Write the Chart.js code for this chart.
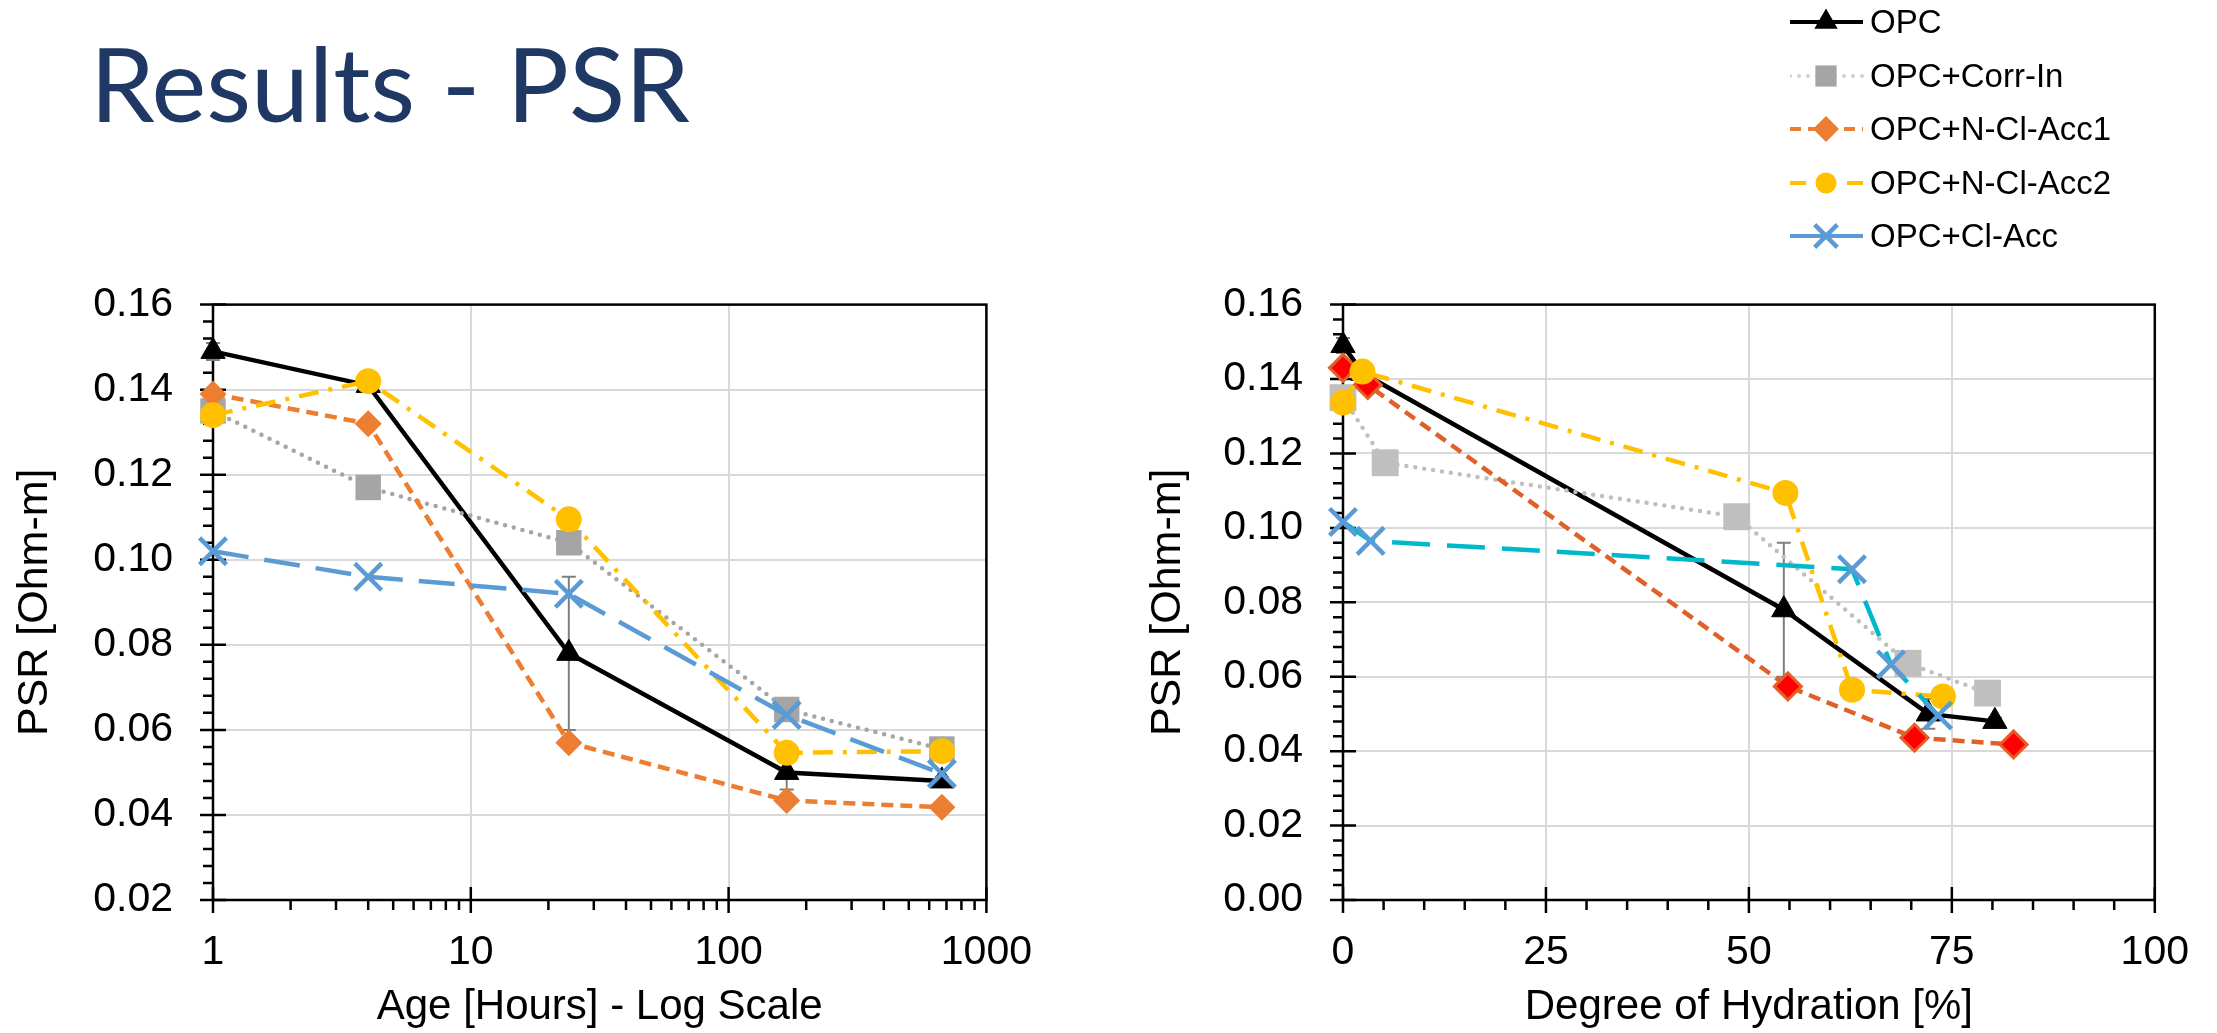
<!DOCTYPE html>
<html>
<head>
<meta charset="utf-8">
<script src="https://cdn.jsdelivr.net/npm/chart.js@4.4.1/dist/chart.umd.min.js"></script>
<style>
  html, body { margin: 0; padding: 0; background: #fff; }
  body { width: 2217px; height: 1033px; position: relative; overflow: hidden;
         font-family: "Liberation Sans", Arial, sans-serif; }
  #title { position: absolute; left: 90px; top: 21px; font-family: Lato, "Noto Sans", sans-serif;
           font-size: 103px; line-height: 1.2; color: #1F3864; white-space: nowrap; transform-origin: 0 0; }
  canvas { position: absolute; top: 240px; }
  #legend { position: absolute; left: 1790px; top: 0; width: 427px; height: 260px; }
  .leg-row { position: absolute; left: 0; height: 40px; }
  .leg-row canvas { position: absolute; left: 0; top: 0; }
  .leg-row span { position: absolute; left: 80px; top: 0; line-height: 40px; font-size: 33px;
                  color: #000; white-space: nowrap; }
</style>
</head>
<body>
<div id="title"><span id="titleText">Results - PSR</span></div>
<canvas id="ageChart" width="1060" height="793" style="left:0"></canvas>
<canvas id="dohChart" width="1117" height="793" style="left:1100px"></canvas>
<div id="legend"></div>

<script>
// ---- data ----
const seriesNames = ['OPC', 'OPC+Corr-In', 'OPC+N-Cl-Acc1', 'OPC+N-Cl-Acc2', 'OPC+Cl-Acc'];

// left: PSR vs age (hours, log axis)
const ageHours     = [1, 4, 24, 168, 672];
const psrAgeOPC    = [0.149, 0.141, 0.078, 0.050, 0.048];
const psrAgeCorrIn = [0.135, 0.117, 0.104, 0.0648, 0.0555];
const psrAgeAcc1   = [0.139, 0.132, 0.057, 0.0434, 0.0418];
const psrAgeAcc2   = [0.134, 0.142, 0.1095, 0.0546, 0.055];
const psrAgeClAcc  = [0.102, 0.096, 0.092, 0.0635, 0.0497];
const opcErr       = [0.002, 0.001, 0.018, 0.004, 0.001];

// right: PSR vs degree of hydration (%)
const dohOPC       = [0, 2.5, 54.3, 72.1, 80.3];
const psrDohOPC    = [0.149, 0.1415, 0.078, 0.050, 0.048];
const dohCorrIn    = [0, 5.2, 48.5, 69.6, 79.4];
const psrDohCorrIn = [0.135, 0.1175, 0.103, 0.0636, 0.0556];
const dohAcc1      = [0, 3.05, 54.8, 70.4, 82.6];
const psrDohAcc1   = [0.143, 0.1384, 0.0574, 0.0436, 0.0418];
const dohAcc2      = [0, 2.4, 54.5, 62.7, 73.9];
const psrDohAcc2   = [0.1337, 0.142, 0.1094, 0.0565, 0.0547];
const dohClAcc     = [0, 3.4, 62.7, 67.5, 73.3];
const psrDohClAcc  = [0.1016, 0.0965, 0.0889, 0.0633, 0.0496];

// tick labels
const ageTickLabels = [1, 10, 100, 1000];
const dohTickLabels = [0, 25, 50, 75, 100];
const psrTickLabelsAge = [0.02, 0.04, 0.06, 0.08, 0.10, 0.12, 0.14, 0.16];
const psrTickLabelsDoh = [0.00, 0.02, 0.04, 0.06, 0.08, 0.10, 0.12, 0.14, 0.16];

Chart.defaults.font.family = "'Liberation Sans', Arial, sans-serif";
Chart.defaults.color = '#000';

const pts = (xs, ys) => xs.map((x, i) => ({ x: x, y: ys[i] }));
const isMajorY = v => Math.abs(v * 50 - Math.round(v * 50)) < 1e-6;
const stepsBetween = (a, b, s) => {
  const out = [];
  for (let i = 0; i <= Math.round((b - a) / s); i++) out.push(+(a + i * s).toFixed(4));
  return out;
};
const logMinorTicks = [1, 10, 100].flatMap(d => [1, 2, 3, 4, 5, 6, 7, 8, 9].map(k => k * d)).concat([1000]);

// line / marker looks, left chart then right chart
const stylesAge = [
  { line: '#000000', fill: '#000000', pb: '#000000', pbw: 1, dash: [], cap: 'butt', shape: 'triangle', r: 14 },
  { line: '#A5A5A5', fill: '#A5A5A5', pb: '#A5A5A5', pbw: 0, dash: [0, 9], cap: 'round', shape: 'rect', r: 18 },
  { line: '#ED7D31', fill: '#ED7D31', pb: '#ED7D31', pbw: 0, dash: [12, 7], cap: 'butt', shape: 'rectRot', r: 13.5 },
  { line: '#FFC000', fill: '#FFC000', pb: '#FFC000', pbw: 0, dash: [20, 10, 4, 10], cap: 'butt', shape: 'circle', r: 13 },
  { line: '#5B9BD5', fill: '#5B9BD5', pb: '#5B9BD5', pbw: 4.5, dash: [36, 16], cap: 'butt', shape: 'crossRot', r: 19 }
];
const stylesDoh = [
  stylesAge[0],
  { line: '#BFBFBF', fill: '#BFBFBF', pb: '#BFBFBF', pbw: 0, dash: [0, 9], cap: 'round', shape: 'rect', r: 19 },
  { line: '#E0602A', fill: '#FF0000', pb: '#E0602A', pbw: 3, dash: [12, 7], cap: 'butt', shape: 'rectRot', r: 13.5 },
  stylesAge[3],
  { line: '#00B8CC', fill: '#5B9BD5', pb: '#5B9BD5', pbw: 4.5, dash: [38, 17], cap: 'butt', shape: 'crossRot', r: 19 }
];

function makeDatasets(seriesPts, styles) {
  return seriesPts.map((data, i) => {
    const st = styles[i];
    return {
      label: seriesNames[i], data: data,
      borderColor: st.line, borderWidth: 4.5, borderDash: st.dash, borderCapStyle: st.cap,
      pointStyle: st.shape, pointRadius: st.r, pointHoverRadius: st.r,
      pointBackgroundColor: st.fill, pointBorderColor: st.pb, pointBorderWidth: st.pbw,
      tension: 0, fill: false, clip: false, order: 5 - i
    };
  });
}

// frame + tick marks (major ticks cross the axis, minor ticks point outwards)
const axisDecor = {
  id: 'axisDecor',
  beforeDatasetsDraw(chart) {
    const { ctx, chartArea: a, scales: { x, y } } = chart;
    const majorX = chart.options.plugins.axisDecor.majorX;
    ctx.save();
    ctx.strokeStyle = '#000';
    ctx.lineWidth = 2.5;
    ctx.strokeRect(a.left, a.top, a.right - a.left, a.bottom - a.top);
    ctx.beginPath();
    y.ticks.forEach(t => {
      const py = y.getPixelForValue(t.value);
      if (isMajorY(t.value)) { ctx.moveTo(a.left - 13, py); ctx.lineTo(a.left + 13, py); }
      else { ctx.moveTo(a.left - 10, py); ctx.lineTo(a.left, py); }
    });
    x.ticks.forEach(t => {
      const px = x.getPixelForValue(t.value);
      if (majorX.includes(t.value)) { ctx.moveTo(px, a.bottom - 13); ctx.lineTo(px, a.bottom + 13); }
      else { ctx.moveTo(px, a.bottom); ctx.lineTo(px, a.bottom + 10); }
    });
    ctx.stroke();
    ctx.restore();
  }
};

// +/- error bars on the OPC series
const errorBars = {
  id: 'errorBars',
  beforeDatasetsDraw(chart) {
    const { ctx, scales: { y } } = chart;
    const meta = chart.getDatasetMeta(0);
    const data = chart.data.datasets[0].data;
    ctx.save();
    ctx.strokeStyle = '#7F7F7F';
    ctx.lineWidth = 2;
    ctx.beginPath();
    meta.data.forEach((el, i) => {
      const top = y.getPixelForValue(data[i].y + opcErr[i]);
      const bot = y.getPixelForValue(data[i].y - opcErr[i]);
      ctx.moveTo(el.x, top); ctx.lineTo(el.x, bot);
      ctx.moveTo(el.x - 7, top); ctx.lineTo(el.x + 7, top);
      ctx.moveTo(el.x - 7, bot); ctx.lineTo(el.x + 7, bot);
    });
    ctx.stroke();
    ctx.restore();
  }
};

function yAxis(min, labels, width, titlePad) {
  return {
    type: 'linear', min: min, max: 0.16,
    afterBuildTicks: s => { s.ticks = stepsBetween(min, 0.16, 0.004).map(v => ({ value: v })); },
    afterFit: s => { s.width = width; },
    ticks: { autoSkip: false, padding: 40, font: { size: 41 },
             callback: v => labels.some(l => Math.abs(l - v) < 1e-6) ? v.toFixed(2) : '' },
    grid: { drawTicks: false, lineWidth: 2,
            color: c => (c.tick && isMajorY(c.tick.value)) ? '#D9D9D9' : 'rgba(0,0,0,0)' },
    border: { display: false },
    title: { display: true, text: 'PSR [Ohm-m]', font: { size: 43 }, padding: { top: titlePad, bottom: 0 } }
  };
}

function xAxis(extra, labels, title) {
  return Object.assign({
    afterFit: s => { s.height = 133; },
    ticks: { autoSkip: false, maxRotation: 0, minRotation: 0, padding: 28, font: { size: 41 },
             callback: v => labels.includes(v) ? String(v) : '' },
    grid: { drawTicks: false, lineWidth: 2,
            color: c => (c.tick && labels.includes(c.tick.value)) ? '#D9D9D9' : 'rgba(0,0,0,0)' },
    border: { display: false },
    title: { display: true, text: title, font: { size: 42 }, padding: { top: 0, bottom: 0 } }
  }, extra);
}

function baseOptions(padRight, xScale, yScale, majorX) {
  return {
    responsive: false, animation: false, events: [],
    layout: { padding: { top: 60, right: padRight, bottom: 0, left: 0 } },
    plugins: { legend: { display: false }, tooltip: { enabled: false }, axisDecor: { majorX: majorX } },
    scales: { x: xScale, y: yScale }
  };
}

new Chart(document.getElementById('ageChart'), {
  type: 'line',
  data: { datasets: makeDatasets([
    pts(ageHours, psrAgeOPC), pts(ageHours, psrAgeCorrIn), pts(ageHours, psrAgeAcc1),
    pts(ageHours, psrAgeAcc2), pts(ageHours, psrAgeClAcc)], stylesAge) },
  options: baseOptions(70,
    xAxis({ type: 'logarithmic', min: 1, max: 1000,
            afterBuildTicks: s => { s.ticks = logMinorTicks.map(v => ({ value: v })); } },
          ageTickLabels, 'Age [Hours] - Log Scale'),
    yAxis(0.02, psrTickLabelsAge, 213, 9), ageTickLabels),
  plugins: [axisDecor, errorBars]
});

new Chart(document.getElementById('dohChart'), {
  type: 'line',
  data: { datasets: makeDatasets([
    pts(dohOPC, psrDohOPC), pts(dohCorrIn, psrDohCorrIn), pts(dohAcc1, psrDohAcc1),
    pts(dohAcc2, psrDohAcc2), pts(dohClAcc, psrDohClAcc)], stylesDoh) },
  options: baseOptions(55,
    xAxis({ type: 'linear', min: 0, max: 100,
            afterBuildTicks: s => { s.ticks = stepsBetween(0, 100, 5).map(v => ({ value: v })); } },
          dohTickLabels, 'Degree of Hydration [%]'),
    yAxis(0, psrTickLabelsDoh, 243, 42), dohTickLabels),
  plugins: [axisDecor, errorBars]
});

// ---- shared legend (top right) ----
function drawMarker(ctx, shape, x, y, r, fill, stroke, lw) {
  ctx.fillStyle = fill; ctx.strokeStyle = stroke; ctx.lineWidth = lw; ctx.setLineDash([]);
  ctx.beginPath();
  if (shape === 'triangle') {
    ctx.moveTo(x, y - r); ctx.lineTo(x + r * 0.866, y + r * 0.5); ctx.lineTo(x - r * 0.866, y + r * 0.5);
    ctx.closePath(); ctx.fill();
  } else if (shape === 'rect') {
    ctx.rect(x - r * 0.707, y - r * 0.707, r * 1.414, r * 1.414); ctx.fill();
  } else if (shape === 'rectRot') {
    ctx.moveTo(x, y - r); ctx.lineTo(x + r, y); ctx.lineTo(x, y + r); ctx.lineTo(x - r, y);
    ctx.closePath(); ctx.fill();
  } else if (shape === 'circle') {
    ctx.arc(x, y, r, 0, Math.PI * 2); ctx.fill();
  } else if (shape === 'crossRot') {
    const d = r * 0.707;
    ctx.moveTo(x - d, y - d); ctx.lineTo(x + d, y + d);
    ctx.moveTo(x + d, y - d); ctx.lineTo(x - d, y + d); ctx.stroke();
  }
}

const legendRows = [
  { y: 22,  line: '#000000', dash: [], cap: 'butt', seg: null, shape: 'triangle', r: 13.5, fill: '#000' },
  { y: 76,  line: '#D0D0D0', dash: [0, 9], cap: 'round', seg: null, shape: 'rect', r: 15, fill: '#A5A5A5' },
  { y: 129, line: '#ED7D31', dash: [11, 7], cap: 'butt', seg: null, shape: 'rectRot', r: 13, fill: '#ED7D31' },
  { y: 183, line: '#FFC000', dash: [], cap: 'butt', seg: [[0, 16], [57, 73]], shape: 'circle', r: 10.5, fill: '#FFC000' },
  { y: 236, line: '#5B9BD5', dash: [], cap: 'butt', seg: null, shape: 'crossRot', r: 16, fill: '#5B9BD5' }
];
const legendEl = document.getElementById('legend');
legendRows.forEach((row, i) => {
  const div = document.createElement('div');
  div.className = 'leg-row';
  div.style.top = (row.y - 20) + 'px';
  const cv = document.createElement('canvas');
  cv.width = 80; cv.height = 40;
  const c = cv.getContext('2d');
  c.strokeStyle = row.line; c.lineWidth = 4; c.lineCap = row.cap; c.setLineDash(row.dash);
  c.beginPath();
  (row.seg || [[0, 73]]).forEach(s => { c.moveTo(s[0], 20); c.lineTo(s[1], 20); });
  c.stroke();
  drawMarker(c, row.shape, 36, 20, row.r, row.fill, row.fill, 4.5);
  const span = document.createElement('span');
  span.textContent = seriesNames[i];
  div.appendChild(cv); div.appendChild(span);
  legendEl.appendChild(div);
});

// fit the title to the reference width
const titleText = document.getElementById('titleText');
const tw = titleText.getBoundingClientRect().width;
document.getElementById('title').style.transform = 'scaleX(' + (600 / tw) + ')';
</script>
</body>
</html>
